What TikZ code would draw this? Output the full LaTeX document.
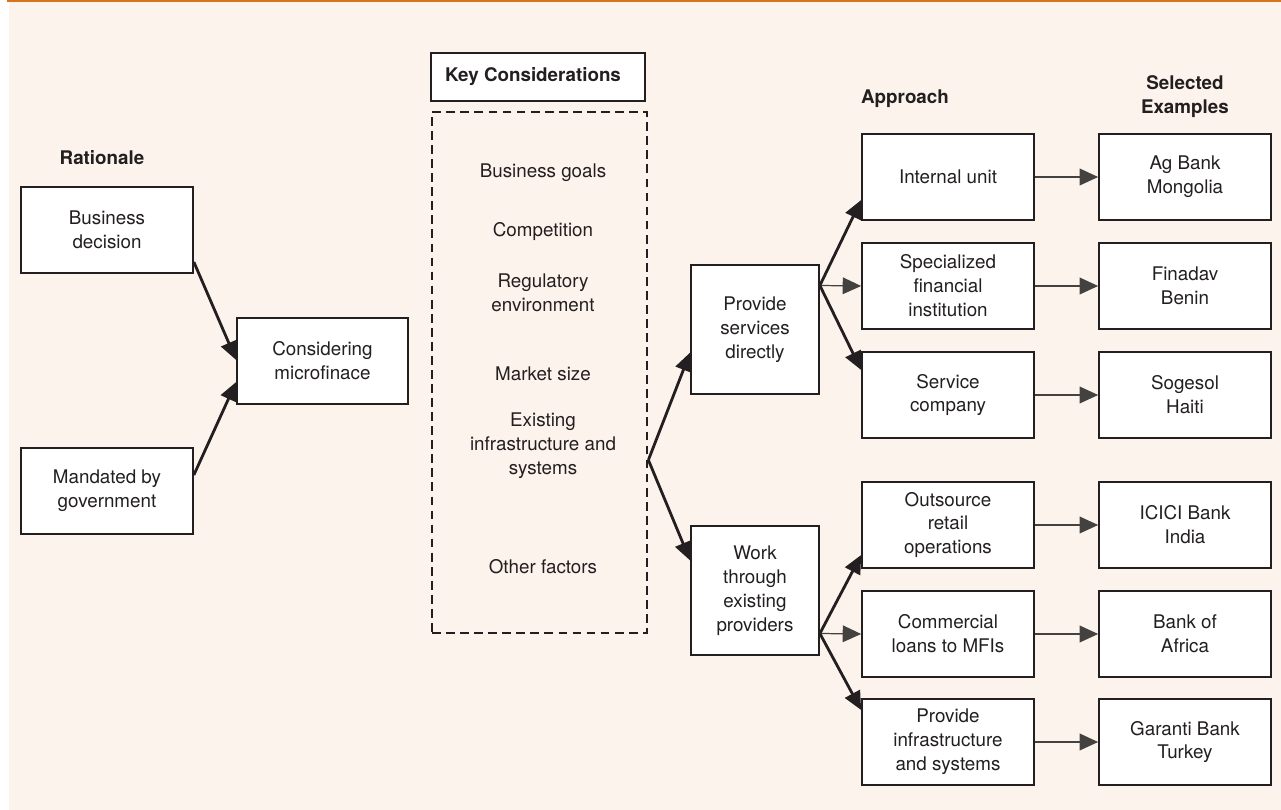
\documentclass[tikz,border=0pt]{standalone}
\usepackage{fontspec}
\setmainfont{TeX Gyre Heros}
\usetikzlibrary{arrows.meta,calc}
\definecolor{cream}{HTML}{FCF3EC}
\definecolor{orangeline}{HTML}{D8741E}
\definecolor{ink}{HTML}{231F20}
\tikzset{
    txt/.style={font=\fontsize{10.7}{13.6}\selectfont, text=ink, align=center},
    heading/.style={font=\fontsize{10.7}{13.6}\selectfont\bfseries, text=ink, align=center},
    box/.style={txt, draw=ink, line width=1pt, fill=white, inner sep=2pt,
        minimum width=3.44cm, minimum height=1.73cm},
    appbox/.style={box, minimum width=2.56cm, minimum height=2.58cm},
    bigarrow/.style={draw=ink, line width=1.6pt, -{Triangle[length=10.5pt,width=9.5pt]}},
    thinarrow/.style={draw=ink!85, line width=0.7pt, -{Triangle[length=10.5pt,width=9.5pt]}},
}
\begin{document}
\begin{tikzpicture}[x=0.02cm, y=-0.02cm]
    \useasboundingbox (0, 0) rectangle (1281, 810);
    \fill [cream] (9, 2) rectangle (1281, 810);
    \fill [orangeline] (7, 0) rectangle (1281, 2.5);

    % rationale
    \node [heading] (rat) at (102, 158) {Rationale};
    \node [box] (bd) at (107, 230) {Business\\decision};
    \node [box] (mg) at (107, 491) {Mandated by\\government};
    \node [box, minimum width=3.42cm] (cm) at (322.5, 361) {Considering\\microfinace};
    \draw [bigarrow] ($(bd.east)+(0, 32)$) -- ($(cm.west)+(0, -1)$);
    \draw [bigarrow] ($(mg.east)+(0, -16)$) -- ($(cm.west)+(0, 21)$);

    % key considerations
    \node [draw=ink, line width=0.8pt, fill=white, minimum width=4.28cm,
        minimum height=0.96cm] (kc) at (538, 77) {};
    \node [heading] (kct) at (533, 77) {Key Considerations};
    \node [draw=ink, line width=1.6pt, dash pattern=on 5pt off 3pt,
        minimum width=4.3cm, minimum height=10.42cm] (kd) at (539.5, 372.5) {};
    \node [txt] (f1) at (543, 173) {Business goals};
    \node [txt] (f2) at (543, 232) {Competition};
    \node [txt] (f3) at (543, 293) {Regulatory\\environment};
    \node [txt] (f4) at (543, 374) {Market size};
    \node [txt] (f5) at (543, 446) {Existing\\infrastructure and\\systems};
    \node [txt] (f6) at (543, 567) {Other factors};
    \coordinate (fan) at ($(kd.east)+(0, 87.5)$);

    % approach
    \node [heading] (app) at (905, 99) {Approach};
    \node [appbox] (ps) at (755, 329.5) {Provide\\services\\directly};
    \node [appbox] (wt) at (755, 590.5) {Work\\through\\existing\\providers};
    \draw [bigarrow] (fan) -- ($(ps.west)+(0, 23)$);
    \draw [bigarrow] (fan) -- ($(wt.west)+(0, -30)$);

    \node [box] (a1) at (948, 177) {Internal unit};
    \node [box] (a2) at (948, 286) {Specialized\\financial\\institution};
    \node [box] (a3) at (948, 395) {Service\\company};
    \node [box] (a4) at (948, 525) {Outsource\\retail\\operations};
    \node [box] (a5) at (948, 634) {Commercial\\loans to MFIs};
    \node [box] (a6) at (948, 742) {Provide\\infrastructure\\and systems};
    \draw [bigarrow] ($(ps.east)+(0, -44)$) -- ($(a1.west)+(0, 23)$);
    \draw [thinarrow] ($(ps.east)+(0, -44)$) -- (a2.west);
    \draw [bigarrow] ($(ps.east)+(0, -44)$) -- ($(a3.west)+(0, -25)$);
    \draw [bigarrow] ($(wt.east)+(0, 43)$) -- ($(a4.west)+(0, 30)$);
    \draw [thinarrow] ($(wt.east)+(0, 43)$) -- (a5.west);
    \draw [bigarrow] ($(wt.east)+(0, 43)$) -- ($(a6.west)+(0, -32)$);

    % examples
    \node [heading] (sel) at (1185, 97) {Selected\\Examples};
    \node [box] (e1) at (1185, 177) {Ag Bank\\Mongolia};
    \node [box] (e2) at (1185, 286) {Finadav\\Benin};
    \node [box] (e3) at (1185, 395) {Sogesol\\Haiti};
    \node [box] (e4) at (1185, 525) {ICICI Bank\\India};
    \node [box] (e5) at (1185, 634) {Bank of\\Africa};
    \node [box] (e6) at (1185, 742) {Garanti Bank\\Turkey};
    \foreach \i in {1,...,6}
        \draw [thinarrow] (a\i) -- (e\i);
\end{tikzpicture}
\end{document}
